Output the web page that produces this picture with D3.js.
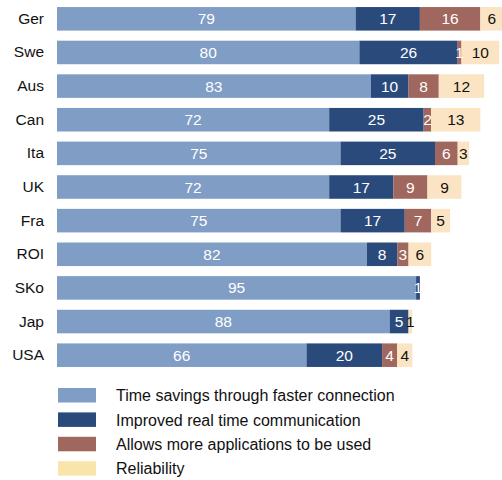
<!DOCTYPE html>
<html>
<head>
<meta charset="utf-8">
<script src="https://cdn.jsdelivr.net/npm/d3@7"></script>
<style>
  html, body { margin: 0; padding: 0; background: #fff; }
  svg { display: block; font-family: "Liberation Sans", Arial, Helvetica, sans-serif; }
</style>
</head>
<body>
<svg id="chart" width="502" height="480"></svg>
<script>
// Countries, top to bottom
const countries = ["Ger", "Swe", "Aus", "Can", "Ita", "UK", "Fra", "ROI", "SKo", "Jap", "USA"];

// Share of respondents (%) per benefit, one array per series
const timeSavings   = [79, 80, 83, 72, 75, 72, 75, 82, 95, 88, 66];
const realTimeComm  = [17, 26, 10, 25, 25, 17, 17,  8,  1,  5, 20];
const moreApps      = [16,  1,  8,  2,  6,  9,  7,  3,  0,  0,  4];
const reliability   = [ 6, 10, 12, 13,  3,  9,  5,  6,  0,  1,  4];

const seriesNames = [
  "Time savings through faster connection",
  "Improved real time communication",
  "Allows more applications to be used",
  "Reliability"
];
const seriesValues = [timeSavings, realTimeComm, moreApps, reliability];
const barColors    = ["#7f9dc5", "#2a4a7c", "#a0675e", "#fbe4c3"];
const swatchColors = ["#7f9dc5", "#2a4a7c", "#a0675e", "#f9e4ab"];
const labelColors  = ["#ffffff", "#ffffff", "#ffffff", "#111111"];

const svg = d3.select("#chart");

// Build a table for d3.stack
const table = countries.map((c, i) => {
  const row = { country: c };
  seriesNames.forEach((s, j) => { row[s] = seriesValues[j][i]; });
  return row;
});
const stacked = d3.stack().keys(seriesNames)(table);

const left = 57;
const x = d3.scaleLinear().domain([0, 100]).range([left, left + 378]);
const y = d3.scaleBand().domain(countries).range([2, 372]).paddingInner(0.3).paddingOuter(0.15);

// Bars
const layers = svg.append("g").selectAll("g")
  .data(stacked)
  .join("g")
  .attr("fill", (d, i) => barColors[i]);

layers.selectAll("rect")
  .data(d => d)
  .join("rect")
  .attr("x", d => x(d[0]))
  .attr("y", d => y(d.data.country))
  .attr("width", d => x(d[1]) - x(d[0]))
  .attr("height", y.bandwidth());

// Value labels centred in each segment
stacked.forEach((layer, i) => {
  svg.append("g").selectAll("text")
    .data(layer.filter(d => d[1] - d[0] > 0))
    .join("text")
    .attr("x", d => (x(d[0]) + x(d[1])) / 2)
    .attr("y", d => y(d.data.country) + y.bandwidth() / 2)
    .attr("dy", "0.36em")
    .attr("text-anchor", "middle")
    .attr("font-size", 15.5)
    .attr("fill", labelColors[i])
    .text(d => d[1] - d[0]);
});

// Category axis
const yAxis = svg.append("g")
  .attr("transform", `translate(${left - 13},0)`)
  .call(d3.axisLeft(y).tickSize(0).tickPadding(0));
yAxis.select(".domain").remove();
yAxis.selectAll("text")
  .attr("font-size", 15.5)
  .attr("fill", "#111")
  .attr("font-family", "Liberation Sans, Arial, sans-serif");

// Legend
const legend = svg.append("g").attr("transform", "translate(58,388)");
const items = legend.selectAll("g")
  .data(seriesNames)
  .join("g")
  .attr("transform", (d, i) => `translate(0,${i * 24.4})`);
items.append("rect")
  .attr("width", 38)
  .attr("height", 14.5)
  .attr("fill", (d, i) => swatchColors[i]);
items.append("text")
  .attr("x", 58)
  .attr("y", 7.5)
  .attr("dy", "0.36em")
  .attr("font-size", 16)
  .attr("fill", "#111")
  .text(d => d);
</script>
</body>
</html>
